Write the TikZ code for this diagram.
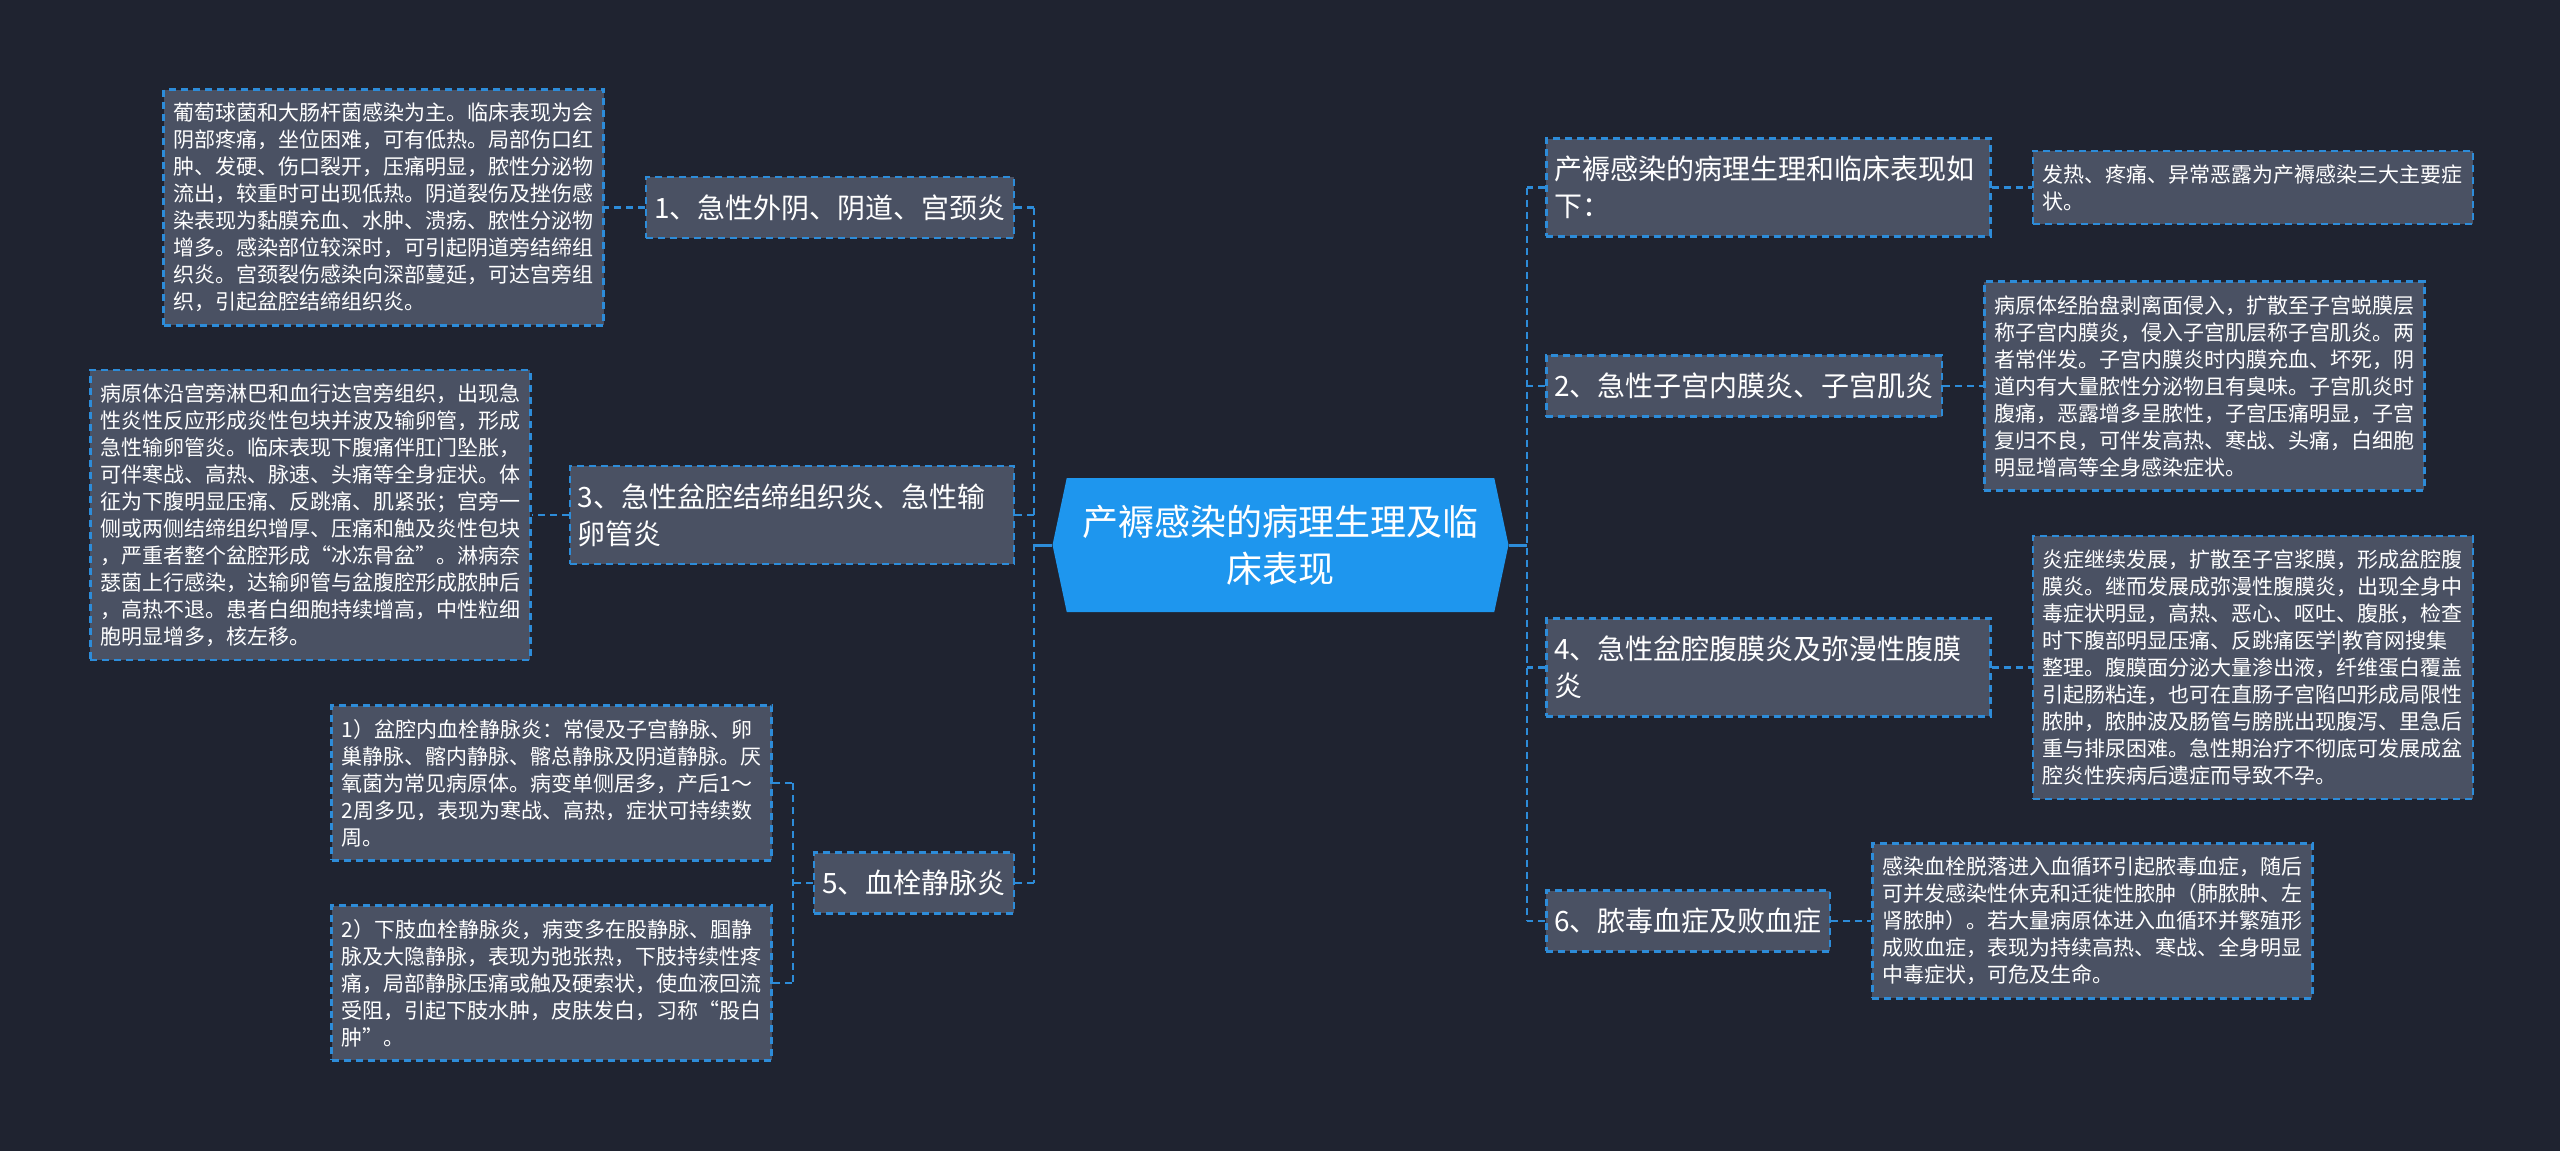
\documentclass[tikz,border=0pt]{standalone}
\usepackage{fontspec}
\setmainfont{Noto Sans CJK SC}
\usepackage{tikz}
\usetikzlibrary{calc, positioning, shapes.symbols}
\definecolor{bgdark}{RGB}{31,35,48}
\definecolor{nodegrey}{RGB}{74,81,99}
\definecolor{lineblue}{RGB}{45,140,217}
\definecolor{rootblue}{RGB}{30,150,238}
\setlength{\parindent}{0pt}

\begin{document}
\begin{tikzpicture}
    [
        x=0.5pt, y=-0.5pt, node distance=20pt,
        rootnode/.style={signal, signal to=west and east, signal pointer angle=156, fill=rootblue, text=white,
            font=\fontsize{18}{23.5}\selectfont, align=center, text width=200pt, minimum width=228pt, minimum height=67pt, inner sep=0pt},
        topic/.style={draw=lineblue, line width=1.25pt, dash pattern=on 3.5pt off 2.5pt, fill=nodegrey, text=white,
            font=\fontsize{14}{18.5}\selectfont, inner xsep=4pt, inner ysep=8.75pt},
        wraptopic/.style={topic, text width=214pt, align=left},
        detail/.style={draw=lineblue, line width=1.25pt, dash pattern=on 3.5pt off 2.5pt, fill=nodegrey, text=white,
            font=\fontsize{10.5}{13.5}\selectfont, text width=210pt, align=left, inner xsep=5pt, inner ysep=6.75pt}
    ]
    \tikzstyle{line} = [draw=lineblue, line width=1.5pt]
    \tikzstyle{dashline} = [draw=lineblue, line width=1.25pt, dash pattern=on 3.5pt off 2.5pt]

    % Background
    \fill[bgdark] (0,0) rectangle (2560,1151);
    \useasboundingbox (0,0) rectangle (2560,1151);

    % Root
    \node[rootnode] (root) at (1280.5,545) {产褥感染的病理生理及临\\床表现};

    % Left branches
    \node[topic, anchor=east] (n1) at (1015,207.5) {1、急性外阴、阴道、宫颈炎};
    \node[wraptopic, anchor=east] (n3) at (1015,515) {3、急性盆腔结缔组织炎、急性输\\卵管炎};
    \node[topic, anchor=east] (n5) at (1015,883) {5、血栓静脉炎};

    \node[detail, left=of n1] (n1_d) {葡萄球菌和大肠杆菌感染为主。临床表现为会\\阴部疼痛，坐位困难，可有低热。局部伤口红\\肿、发硬、伤口裂开，压痛明显，脓性分泌物\\流出，较重时可出现低热。阴道裂伤及挫伤感\\染表现为黏膜充血、水肿、溃疡、脓性分泌物\\增多。感染部位较深时，可引起阴道旁结缔组\\织炎。宫颈裂伤感染向深部蔓延，可达宫旁组\\织，引起盆腔结缔组织炎。};
    \node[detail, left=18.5pt of n3] (n3_d) {病原体沿宫旁淋巴和血行达宫旁组织，出现急\\性炎性反应形成炎性包块并波及输卵管，形成\\急性输卵管炎。临床表现下腹痛伴肛门坠胀，\\可伴寒战、高热、脉速、头痛等全身症状。体\\征为下腹明显压痛、反跳痛、肌紧张；宫旁一\\侧或两侧结缔组织增厚、压痛和触及炎性包块\\，严重者整个盆腔形成“冰冻骨盆”。淋病奈\\瑟菌上行感染，达输卵管与盆腹腔形成脓肿后\\，高热不退。患者白细胞持续增高，中性粒细\\胞明显增多，核左移。};
    \node[detail, left=of n5, yshift=50pt] (n5_a) {1）盆腔内血栓静脉炎：常侵及子宫静脉、卵\\巢静脉、髂内静脉、髂总静脉及阴道静脉。厌\\氧菌为常见病原体。病变单侧居多，产后1～\\2周多见，表现为寒战、高热，症状可持续数\\周。};
    \node[detail, left=of n5, yshift=-50pt] (n5_b) {2）下肢血栓静脉炎，病变多在股静脉、腘静\\脉及大隐静脉，表现为弛张热，下肢持续性疼\\痛，局部静脉压痛或触及硬索状，使血液回流\\受阻，引起下肢水肿，皮肤发白，习称“股白\\肿”。};

    % Right branches
    \node[wraptopic, anchor=west] (r0) at (1545,187.5) {产褥感染的病理生理和临床表现如\\下：};
    \node[topic, anchor=west] (r2) at (1545,386) {2、急性子宫内膜炎、子宫肌炎};
    \node[wraptopic, anchor=west] (r4) at (1545,667.5) {4、急性盆腔腹膜炎及弥漫性腹膜\\炎};
    \node[topic, anchor=west] (r6) at (1545,921) {6、脓毒血症及败血症};

    \node[detail, right=of r0] (r0_d) {发热、疼痛、异常恶露为产褥感染三大主要症\\状。};
    \node[detail, right=of r2] (r2_d) {病原体经胎盘剥离面侵入，扩散至子宫蜕膜层\\称子宫内膜炎，侵入子宫肌层称子宫肌炎。两\\者常伴发。子宫内膜炎时内膜充血、坏死，阴\\道内有大量脓性分泌物且有臭味。子宫肌炎时\\腹痛，恶露增多呈脓性，子宫压痛明显，子宫\\复归不良，可伴发高热、寒战、头痛，白细胞\\明显增高等全身感染症状。};
    \node[detail, right=of r4] (r4_d) {炎症继续发展，扩散至子宫浆膜，形成盆腔腹\\膜炎。继而发展成弥漫性腹膜炎，出现全身中\\毒症状明显，高热、恶心、呕吐、腹胀，检查\\时下腹部明显压痛、反跳痛医学|教育网搜集\\整理。腹膜面分泌大量渗出液，纤维蛋白覆盖\\引起肠粘连，也可在直肠子宫陷凹形成局限性\\脓肿，脓肿波及肠管与膀胱出现腹泻、里急后\\重与排尿困难。急性期治疗不彻底可发展成盆\\腔炎性疾病后遗症而导致不孕。};
    \node[detail, right=of r6] (r6_d) {感染血栓脱落进入血循环引起脓毒血症，随后\\可并发感染性休克和迁徙性脓肿（肺脓肿、左\\肾脓肿）。若大量病原体进入血循环并繁殖形\\成败血症，表现为持续高热、寒战、全身明显\\中毒症状，可危及生命。};

    % Trunks
    \coordinate (ltrunk) at (1034,545);
    \coordinate (rtrunk) at (1527,545);
    \coordinate (s5) at ($(n5.west)!0.5!(n5_a.east |- n5.west)$);

    \path[line] (root.west) -- (ltrunk);
    \path[line] (root.east) -- (rtrunk);
    \path[dashline] (n1.east -| ltrunk) -- (n5.east -| ltrunk);
    \path[dashline] (r0.west -| rtrunk) -- (r6.west -| rtrunk);
    \foreach \n in {n1, n3, n5} {
        \path[dashline] (\n.east) -- (\n.east -| ltrunk);
    }
    \foreach \n in {r0, r2, r4, r6} {
        \path[dashline] (\n.west) -- (\n.west -| rtrunk);
        \path[dashline] (\n.east) -- (\n_d.west);
    }
    \path[dashline] (n1.west) -- (n1_d.east);
    \path[dashline] (n3.west) -- (n3_d.east);

    % Thrombophlebitis sub-branch
    \path[dashline] (n5.west) -- (s5);
    \path[dashline] (n5_a.east -| s5) -- (n5_b.east -| s5);
    \path[dashline] (n5_a.east) -- (n5_a.east -| s5);
    \path[dashline] (n5_b.east) -- (n5_b.east -| s5);
\end{tikzpicture}
\end{document}
